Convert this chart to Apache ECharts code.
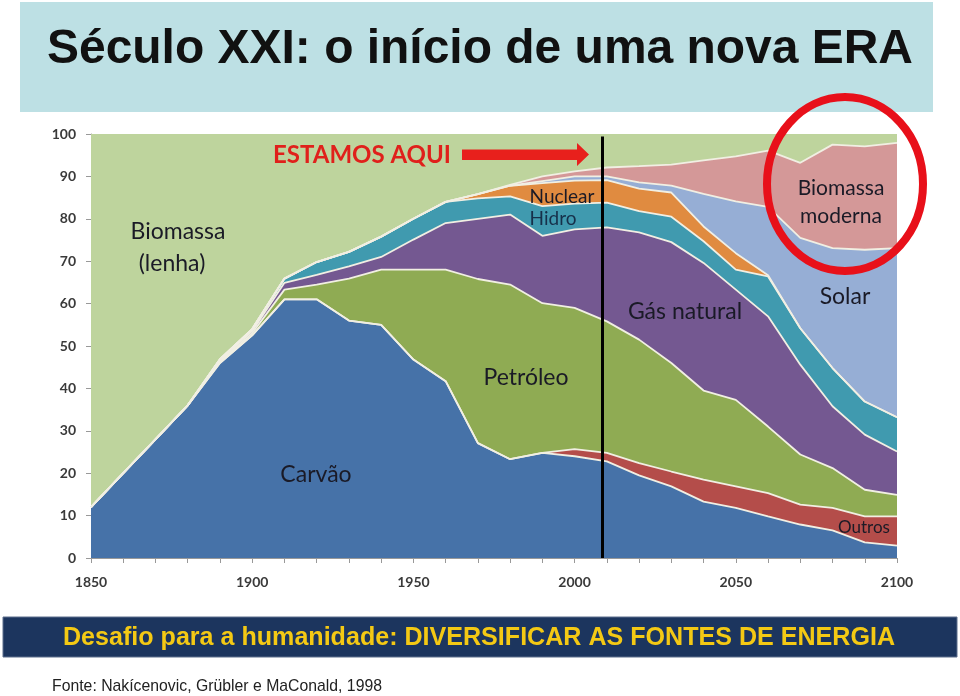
<!DOCTYPE html>
<html><head><meta charset="utf-8">
<script src="https://cdn.jsdelivr.net/npm/echarts@6/dist/echarts.min.js"></script>
<style>html,body{margin:0;padding:0;background:#fff}#c{width:960px;height:696px}</style>
</head><body><div id="c"></div>
<script>
const years = [1850,1860,1870,1880,1890,1900,1910,1920,1930,1940,1950,1960,1970,1980,1990,2000,2010,2020,2030,2040,2050,2060,2070,2080,2090,2100];
const carvao   = [12,20,28,36,46,52.5,61,61,56,55,46.8,41.7,27.1,23.3,24.8,24,22.8,19.5,16.9,13.3,11.8,9.8,7.9,6.5,3.7,2.9];
const outros   = [0,0,0,0,0,0,0,0,0,0,0,0,0,0,0,1.7,2,2.9,3.5,5.2,5.1,5.5,4.7,5.3,6.1,6.9];
const petroleo = [0,0,0,0,0.3,0.5,2.3,3.5,9.9,13,21.2,26.3,38.7,41.2,35.3,33.3,31,29.1,25.6,21,20.4,15.7,11.8,9.4,6.3,5.1];
const gas      = [0,0,0,0,0.3,0.5,1.6,2.3,2.9,3,7.1,11,14.2,16.5,15.9,18.5,22.2,25.3,28.5,30.1,26,26,21.2,14.6,13,10.2];
const hidro    = [0,0,0,0,0.3,0.5,1,3,3.4,4.8,4.9,5,4.8,4.3,7,6.1,5.8,5,6,5.1,4.7,9.4,8.6,9,7.8,8.1];
const nuclear  = [0,0,0,0,0,0,0,0,0,0,0,0,1,2.5,5.4,5.4,5.3,5.3,5.7,3.5,3.9,0.3,0,0,0,0];
const solar    = [0,0,0,0,0,0,0,0,0,0,0,0,0,0,0.5,1,0.9,1.5,1.6,7.7,12.2,16.1,21.3,28.3,35.8,39.9];
const bioModerna = [0,0,0,0,0,0,0,0,0,0,0,0,0,0.2,1.1,1.2,2.1,3.8,5,7.9,10.6,13.3,17.7,24.4,24.4,24.8];
const bioLenha = [88,80,72,64,53.1,46,34.1,30.2,27.8,24.2,20,16,14.2,12,10,8.8,7.9,7.6,7.2,6.2,5.3,3.9,6.8,2.5,2.9,2.1];
const seriesNames = ['Carvão','Outros','Petróleo','Gás natural','Hidro','Nuclear','Solar','Biomassa moderna','Biomassa (lenha)'];
const yTicks = [0,10,20,30,40,50,60,70,80,90,100];
const nowYear = 2008.7;

const colors = ['#4672a8','#b44d4a','#8fab53','#745891','#409aaf','#e08b40','#96aed5','#d49898','#bed49d'];
const all = [carvao,outros,petroleo,gas,hidro,nuclear,solar,bioModerna,bioLenha];

function fit(text, font, target){
  const ctx=document.createElement('canvas').getContext('2d');
  ctx.font=font; return target/ctx.measureText(text).width;
}

const chart = echarts.init(document.getElementById('c'), null, {renderer:'canvas'});
const series = all.map((arr,i)=>({
  name: seriesNames[i], type:'line', stack:'energia', symbol:'none', silent:true,
  xAxisIndex:0, yAxisIndex:0,
  data: arr.slice(),
  areaStyle:{color:colors[i], opacity:1},
  lineStyle:{color:'#f1efe3', width: i===8?0:1.8}
}));
series.push({
  type:'line', data:[], silent:true, xAxisIndex:1, yAxisIndex:0, z:30,
  markLine:{symbol:'none', silent:true, label:{show:false},
    lineStyle:{color:'#000', width:3, type:'solid'},
    data:[[{coord:[nowYear,0]},{coord:[nowYear,99.4]}]]}
});

const font = 'Lato, "Open Sans", sans-serif';
const dark = '#1a1a26';
function lbl(text,x,y,size,color){
  return {type:'text', x:x, y:y, z:100, silent:true,
    style:{text:text, fontFamily:font, fontSize:size, fill:color||dark, align:'center', verticalAlign:'middle'}};
}
const titleText = 'Século XXI: o início de uma nova ERA';
const bannerText = 'Desafio para a humanidade: DIVERSIFICAR AS FONTES DE ENERGIA';
const fonteText = 'Fonte: Nakícenovic, Grübler e MaConald, 1998';
const tScale = fit(titleText, 'bold 48px "Liberation Sans"', 866);
const bScale = fit(bannerText, 'bold 26px "Liberation Sans"', 832);
const fScale = fit(fonteText, '17px "Liberation Sans"', 330);

chart.setOption({
  animation:false,
  grid:{left:91, right:63, top:134, bottom:138},
  xAxis:[{type:'category', data:years.map(String), boundaryGap:false,
    axisLine:{lineStyle:{color:'#999', width:1}},
    axisTick:{show:true, length:5, interval:0, lineStyle:{color:'#999'}},
    splitLine:{show:false},
    axisLabel:{margin:17, interval:4, fontFamily:font, fontWeight:'bold', fontSize:14, color:'#3a3a3a'}
  },{type:'value', min:1850, max:2100, show:false}],
  yAxis:{type:'value', min:0, max:100, interval:10,
    axisLine:{show:true, lineStyle:{color:'#999'}},
    axisTick:{show:true, length:5, lineStyle:{color:'#999'}},
    splitLine:{show:false},
    axisLabel:{margin:15, fontFamily:font, fontWeight:'bold', fontSize:14, color:'#3a3a3a',
      formatter:v=> yTicks.indexOf(v)>=0 ? String(v) : ''}
  },
  series: series,
  graphic:[
    {type:'rect', z:0, shape:{x:20,y:2,width:913,height:110}, style:{fill:'#bde0e4'}},
    {type:'text', z:100, x:47, y:50, scaleX:tScale, style:{text:titleText, fontFamily:'"Liberation Sans", Arial, sans-serif', fontWeight:'bold', fontSize:48, fill:'#111', align:'left', verticalAlign:'middle'}},
    {type:'rect', z:0, shape:{x:3,y:617,width:954,height:40}, style:{fill:'#1c355e', stroke:'#5c6f8c', lineWidth:1}},
    {type:'text', z:100, x:63, y:638, scaleX:bScale, style:{text:bannerText, fontFamily:'"Liberation Sans", Arial, sans-serif', fontWeight:'bold', fontSize:26, fill:'#f4c914', align:'left', verticalAlign:'middle'}},
    {type:'text', z:100, x:52, y:686, scaleX:fScale, style:{text:fonteText, fontFamily:'"Liberation Sans", Arial, sans-serif', fontSize:17, fill:'#222', align:'left', verticalAlign:'middle'}},
    {type:'polygon', z:100, silent:true, shape:{points:[[462,149.5],[577,149.5],[577,143],[589,154.5],[577,166],[577,160],[462,160]]}, style:{fill:'#e8201c'}},
    {type:'text', z:100, x:362, y:155, style:{text:'ESTAMOS AQUI', fontFamily:font, fontWeight:'bold', fontSize:24, fill:'#e0201b', align:'center', verticalAlign:'middle'}},
    {type:'ellipse', z:100, silent:true, shape:{cx:845, cy:184, rx:78, ry:87}, style:{fill:'none', stroke:'#e8101a', lineWidth:8}},
    lbl('Biomassa',178,232,23), lbl('(lenha)',172,264,23),
    lbl('Carvão',316,475,23), lbl('Petróleo',526,378,23), lbl('Gás natural',685,312,23),
    lbl('Nuclear',562,197,19), lbl('Hidro',553,219,19,'#16304a'),
    lbl('Solar',845,297,23), lbl('Biomassa',841,188,21), lbl('moderna',841,216,21),
    lbl('Outros',864,528,17)
  ]
});
</script></body></html>
